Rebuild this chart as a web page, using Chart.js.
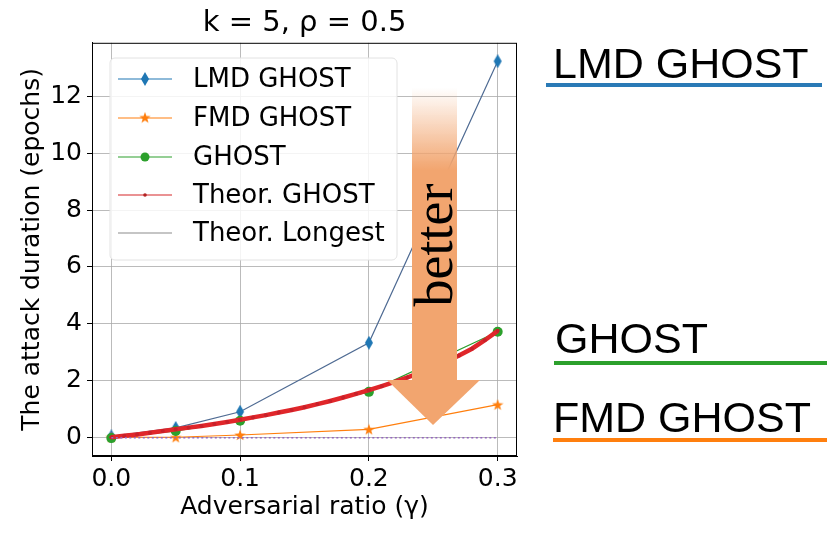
<!DOCTYPE html>
<html>
<head>
<meta charset="utf-8">
<script src="https://cdn.jsdelivr.net/npm/chart.js@4.4.1/dist/chart.umd.min.js"></script>
<style>
  html, body { margin: 0; padding: 0; background: #fff; }
  #wrap { position: relative; width: 827px; height: 541px; }
  #chartCanvas { position: absolute; left: 0; top: 0; }
  .note { position: absolute; font-family: "Liberation Sans", Arial, sans-serif;
          font-size: 43px; line-height: 43px; color: #000; white-space: nowrap; }
  .rule { position: absolute; height: 4px; }
</style>
</head>
<body>
<div id="wrap">
  <canvas id="chartCanvas" width="827" height="541"></canvas>
  <div class="note" style="left:553px; top:42px;">LMD GHOST</div>
  <div class="rule" style="left:546px; top:83px; width:276px; background:#2a7ab6;"></div>
  <div class="note" style="left:555px; top:317px;">GHOST</div>
  <div class="rule" style="left:554px; top:361px; width:273px; background:#2ca02c;"></div>
  <div class="note" style="left:553px; top:396px;">FMD GHOST</div>
  <div class="rule" style="left:553px; top:438px; width:274px; background:#ff7f0e;"></div>
</div>
<script>
/* ---------------- data ---------------- */
const gammaObs   = [0, 0.05, 0.1, 0.2, 0.3];
const lmdGhost   = [0.03, 0.33, 0.90, 3.33, 13.25];
const fmdGhost   = [0.00, 0.00, 0.08, 0.28, 1.15];
const ghost      = [-0.03, 0.22, 0.58, 1.60, 3.72];

const gammaTheor = [0, 0.01, 0.02, 0.03, 0.04, 0.05, 0.06, 0.07, 0.08, 0.09, 0.10,
                    0.11, 0.12, 0.13, 0.14, 0.15, 0.16, 0.17, 0.18, 0.19, 0.20,
                    0.21, 0.22, 0.23, 0.24, 0.25, 0.26, 0.27, 0.28, 0.29, 0.30];
const theorGhost = [0.00, 0.05, 0.10, 0.16, 0.22, 0.28, 0.34, 0.40, 0.47, 0.54, 0.62,
                    0.70, 0.78, 0.87, 0.96, 1.06, 1.17, 1.28, 1.40, 1.53, 1.66,
                    1.80, 1.95, 2.11, 2.28, 2.46, 2.66, 2.88, 3.12, 3.42, 3.75];
const theorLongest = [-0.02, -0.02, -0.02, -0.02, -0.02, -0.02, -0.02, -0.02, -0.02, -0.02, -0.02,
                      -0.02, -0.02, -0.02, -0.02, -0.02, -0.02, -0.02, -0.02, -0.02, -0.02,
                      -0.02, -0.02, -0.02, -0.02, -0.02, -0.02, -0.02, -0.02, -0.02, -0.02];

const xTicks = [0, 0.1, 0.2, 0.3];
const yTicks = [0, 2, 4, 6, 8, 10, 12];

const seriesNames = ['LMD GHOST', 'FMD GHOST', 'GHOST', 'Theor. GHOST', 'Theor. Longest'];

/* ---------------- small helpers ---------------- */
function zip(xs, ys) {
  return xs.map((x, i) => ({ x: x, y: ys[i] }));
}

// matplotlib-like thin diamond marker
function thinDiamond(color) {
  const c = document.createElement('canvas');
  c.width = 10; c.height = 14;
  const g = c.getContext('2d');
  g.fillStyle = color;
  g.beginPath();
  g.moveTo(5, 0); g.lineTo(9, 7); g.lineTo(5, 14); g.lineTo(1, 7);
  g.closePath(); g.fill();
  return c;
}

// filled five-point star marker
function filledStar(color) {
  const c = document.createElement('canvas');
  c.width = 12; c.height = 12;
  const g = c.getContext('2d');
  g.fillStyle = color;
  g.beginPath();
  for (let i = 0; i < 10; i++) {
    const r = i % 2 ? 2.4 : 6;
    const a = -Math.PI / 2 + i * Math.PI / 5;
    g.lineTo(6 + r * Math.cos(a), 6.5 + r * Math.sin(a));
  }
  g.closePath(); g.fill();
  return c;
}

const FONT = "'DejaVu Sans', sans-serif";
const diamondImg = thinDiamond('#1f77b4');
const starImg = filledStar('#ff7f0e');

/* ---------------- extra drawing: frame, legend, arrow ---------------- */
const decorPlugin = {
  id: 'decor',
  afterDraw(chart) {
    const ctx = chart.ctx;
    const a = chart.chartArea;
    ctx.save();

    // axes frame
    ctx.strokeStyle = '#000';
    ctx.lineWidth = 1;
    ctx.strokeRect(a.left + 0.5, a.top + 0.5, a.right - a.left - 1, a.bottom - a.top - 1);

    // legend box
    const bx = 110, by = 58, bw = 287, bh = 202, r = 5;
    ctx.beginPath();
    ctx.moveTo(bx + r, by);
    ctx.arcTo(bx + bw, by, bx + bw, by + bh, r);
    ctx.arcTo(bx + bw, by + bh, bx, by + bh, r);
    ctx.arcTo(bx, by + bh, bx, by, r);
    ctx.arcTo(bx, by, bx + bw, by, r);
    ctx.closePath();
    ctx.fillStyle = 'rgba(255,255,255,0.85)';
    ctx.fill();
    ctx.strokeStyle = '#e2e2e2';
    ctx.stroke();

    const rows = [79, 118, 157, 195, 233];
    const handleColors = ['#1f77b4', '#ff7f0e', '#2ca02c', '#d62728', '#8c8c8c'];
    rows.forEach((y, i) => {
      ctx.strokeStyle = handleColors[i];
      ctx.lineWidth = 1.2;
      ctx.beginPath();
      ctx.moveTo(118, y); ctx.lineTo(172, y);
      ctx.stroke();
      if (i === 0) ctx.drawImage(diamondImg, 140, y - 7);
      if (i === 1) ctx.drawImage(starImg, 139, y - 6.5);
      if (i === 2) { ctx.fillStyle = '#2ca02c'; ctx.beginPath(); ctx.arc(145, y, 4.5, 0, 2 * Math.PI); ctx.fill(); }
      if (i === 3) { ctx.fillStyle = '#b22222'; ctx.beginPath(); ctx.arc(145, y, 1.8, 0, 2 * Math.PI); ctx.fill(); }
      ctx.fillStyle = '#000';
      ctx.font = '26px ' + FONT;
      ctx.textAlign = 'left';
      ctx.textBaseline = 'middle';
      ctx.fillText(seriesNames[i], 193, y + 1);
    });

    // "better" arrow
    const grad = ctx.createLinearGradient(0, 88, 0, 170);
    grad.addColorStop(0, 'rgba(242,165,111,0)');
    grad.addColorStop(1, 'rgba(242,165,111,1)');
    ctx.fillStyle = grad;
    ctx.fillRect(412, 88, 45, 292);
    ctx.fillStyle = '#f2a56f';
    ctx.fillRect(412, 170, 45, 211);
    ctx.beginPath();
    ctx.moveTo(387, 380); ctx.lineTo(480, 380); ctx.lineTo(433, 425);
    ctx.closePath(); ctx.fill();

    ctx.translate(452, 245);
    ctx.rotate(-Math.PI / 2);
    ctx.fillStyle = '#000';
    ctx.font = "54px 'Liberation Serif', serif";
    ctx.textAlign = 'center';
    ctx.textBaseline = 'alphabetic';
    ctx.fillText('better', 0, 0);

    ctx.restore();
  }
};

/* ---------------- chart ---------------- */
const axisFont = { family: FONT, size: 25 };

new Chart(document.getElementById('chartCanvas'), {
  type: 'scatter',
  data: {
    datasets: [
      {
        label: seriesNames[0],
        data: zip(gammaObs, lmdGhost),
        showLine: true,
        borderColor: '#4f6b93',
        borderWidth: 1.2,
        pointStyle: diamondImg,
        pointRadius: 5,
        order: 5,
      },
      {
        label: seriesNames[1],
        data: zip(gammaObs, fmdGhost),
        showLine: true,
        borderColor: '#ff7f0e',
        borderWidth: 1.2,
        pointStyle: starImg,
        pointRadius: 5,
        order: 4,
      },
      {
        label: seriesNames[2],
        data: zip(gammaObs, ghost),
        showLine: true,
        borderColor: '#2ca02c',
        backgroundColor: '#2ca02c',
        borderWidth: 1.2,
        pointStyle: 'circle',
        pointRadius: 5,
        pointBorderWidth: 0,
        order: 3,
      },
      {
        label: seriesNames[3],
        data: zip(gammaTheor, theorGhost),
        showLine: true,
        borderColor: '#e0262a',
        backgroundColor: '#c8202a',
        borderWidth: 4.5,
        pointStyle: 'circle',
        pointRadius: 2,
        pointBorderWidth: 0,
        order: 2,
      },
      {
        label: seriesNames[4],
        data: zip(gammaTheor, theorLongest),
        showLine: true,
        borderColor: '#9467bd',
        borderWidth: 1.5,
        borderDash: [2, 2.5],
        pointRadius: 0,
        order: 1,
      },
    ],
  },
  options: {
    responsive: false,
    animation: false,
    devicePixelRatio: 1,
    layout: { padding: { left: 0, right: 310, top: 0, bottom: 0 } },
    plugins: {
      legend: { display: false },
      tooltip: { enabled: false },
      title: {
        display: true,
        fullSize: false,
        text: 'k = 5, ρ = 0.5',
        color: '#000',
        font: { family: FONT, size: 29, weight: 'normal' },
        padding: { top: 6, bottom: 2 },
      },
    },
    scales: {
      x: {
        type: 'linear',
        min: -0.015,
        max: 0.315,
        afterBuildTicks: (s) => { s.ticks = xTicks.map(v => ({ value: v })); },
        afterFit: (s) => { s.height = 85; },
        ticks: { color: '#000', font: axisFont, padding: 3, maxRotation: 0,
                 callback: (v) => v.toFixed(1) },
        grid: { color: 'rgba(170,170,170,0.8)', lineWidth: 1, tickColor: '#000', tickLength: 5 },
        border: { color: '#000', width: 1 },
        title: { display: true, text: 'Adversarial ratio (γ)', color: '#000', font: axisFont,
                 padding: { top: 0, bottom: 19 } },
      },
      y: {
        type: 'linear',
        min: -0.66,
        max: 13.9,
        afterBuildTicks: (s) => { s.ticks = yTicks.map(v => ({ value: v })); },
        afterFit: (s) => { s.width = 92; },
        ticks: { color: '#000', font: axisFont, padding: 5 },
        grid: { color: 'rgba(170,170,170,0.8)', lineWidth: 1, tickColor: '#000', tickLength: 5 },
        border: { color: '#000', width: 1 },
        title: { display: true, text: 'The attack duration (epochs)', color: '#000',
                 font: axisFont, padding: { top: 17, bottom: 0 } },
      },
    },
  },
  plugins: [decorPlugin],
});
</script>
</body>
</html>
